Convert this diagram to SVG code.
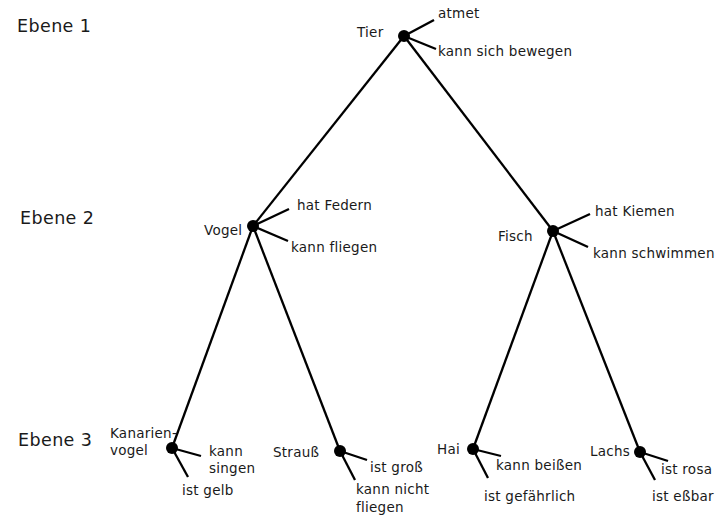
<svg xmlns="http://www.w3.org/2000/svg" width="715" height="517" viewBox="0 0 715 517">
<style>
text{font-family:"DejaVu Sans","Liberation Sans",sans-serif;fill:#1a1a1a}
.t{font-size:13.5px;letter-spacing:0.25px}
.lv{font-size:17.5px;letter-spacing:0.4px}
.e{stroke:#000;stroke-width:2.3;fill:none}
.p{stroke:#000;stroke-width:2.3;fill:none}
.d{fill:#000}
</style>
<rect width="715" height="517" fill="#fff"/>
<g id="levels">
<text class="lv" x="17" y="32">Ebene 1</text>
<text class="lv" x="20" y="224">Ebene 2</text>
<text class="lv" x="18" y="446">Ebene 3</text>
</g>
<g id="connectors">
<line class="e" x1="404" y1="36" x2="253" y2="226"/>
<line class="e" x1="404" y1="36" x2="553" y2="231"/>
<line class="e" x1="253" y1="226" x2="172" y2="448"/>
<line class="e" x1="253" y1="226" x2="340" y2="451"/>
<line class="e" x1="553" y1="231" x2="473" y2="449"/>
<line class="e" x1="553" y1="231" x2="640" y2="452"/>
</g>
<g id="tier">
<line class="p" x1="404" y1="36" x2="434" y2="20"/>
<line class="p" x1="404" y1="36" x2="436" y2="49"/>
<circle class="d" cx="404" cy="36" r="6"/>
<text class="t" x="357" y="37">Tier</text>
<text class="t" x="438" y="18">atmet</text>
<text class="t" x="438" y="56">kann sich bewegen</text>
</g>
<g id="vogel">
<line class="p" x1="253" y1="226" x2="289" y2="209"/>
<line class="p" x1="253" y1="226" x2="288" y2="241"/>
<circle class="d" cx="253" cy="226" r="6"/>
<text class="t" x="204" y="235">Vogel</text>
<text class="t" x="297" y="210">hat Federn</text>
<text class="t" x="291" y="252">kann fliegen</text>
</g>
<g id="fisch">
<line class="p" x1="553" y1="231" x2="590" y2="214"/>
<line class="p" x1="553" y1="231" x2="588" y2="247"/>
<circle class="d" cx="553" cy="231" r="6"/>
<text class="t" x="498" y="241">Fisch</text>
<text class="t" x="595" y="216">hat Kiemen</text>
<text class="t" x="593" y="258">kann schwimmen</text>
</g>
<g id="kanarienvogel">
<line class="p" x1="172" y1="448" x2="201" y2="456"/>
<line class="p" x1="172" y1="448" x2="188" y2="477"/>
<circle class="d" cx="172" cy="448" r="6"/>
<text class="t" x="110" y="438">Kanarien-</text>
<text class="t" x="110" y="455">vogel</text>
<text class="t" x="209" y="456">kann</text>
<text class="t" x="209" y="473">singen</text>
<text class="t" x="182" y="495">ist gelb</text>
</g>
<g id="strauss">
<line class="p" x1="340" y1="451" x2="367" y2="460"/>
<line class="p" x1="340" y1="451" x2="355" y2="480"/>
<circle class="d" cx="340" cy="451" r="6"/>
<text class="t" x="273" y="457">Strauß</text>
<text class="t" x="370" y="472">ist groß</text>
<text class="t" x="356" y="494">kann nicht</text>
<text class="t" x="356" y="512">fliegen</text>
</g>
<g id="hai">
<line class="p" x1="473" y1="449" x2="501" y2="456"/>
<line class="p" x1="473" y1="449" x2="488" y2="478"/>
<circle class="d" cx="473" cy="449" r="6"/>
<text class="t" x="437" y="454">Hai</text>
<text class="t" x="496" y="470">kann beißen</text>
<text class="t" x="484" y="501">ist gefährlich</text>
</g>
<g id="lachs">
<line class="p" x1="640" y1="452" x2="668" y2="461"/>
<line class="p" x1="640" y1="452" x2="655" y2="480"/>
<circle class="d" cx="640" cy="452" r="6"/>
<text class="t" x="590" y="456">Lachs</text>
<text class="t" x="661" y="474">ist rosa</text>
<text class="t" x="652" y="501">ist eßbar</text>
</g>
</svg>
